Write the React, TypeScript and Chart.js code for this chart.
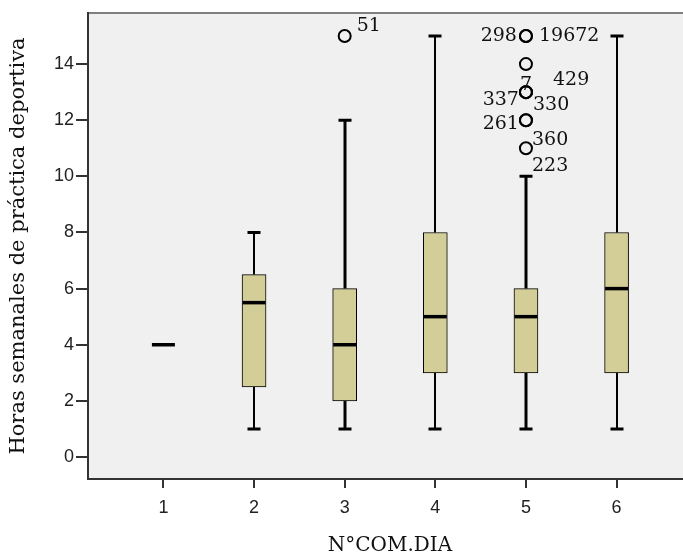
import { useEffect, useRef } from 'react';
import { Chart, registerables } from 'chart.js';

Chart.register(...registerables);

// ---- data ----
const categories = [1, 2, 3, 4, 5, 6];
const q1 = [4, 2.5, 2, 3, 3, 3];
const medians = [4, 5.5, 4, 5, 5, 6];
const q3 = [4, 6.5, 6, 8, 6, 8];
const whiskerLow = [4, 1, 1, 1, 1, 1];
const whiskerHigh = [4, 8, 12, 15, 10, 15];
const outlierCategory = [3, 5, 5, 5, 5, 5, 5, 5, 5, 5];
const outlierValue = [15, 15, 15, 14, 13, 13, 13, 12, 12, 11];
const outlierIds = ['51', '298', '19672', '429', '7', '337', '330', '261', '360', '223'];
const yTickValues = [0, 2, 4, 6, 8, 10, 12, 14];

// ---- styles ----
const labelDx = [12, -9, 13, 27, 0, -7, 7, -7, 6, 6];
const labelDy = [-10, 0, 0, 16, -7, 8, 13, 4, 20, 18];
const labelAlign: CanvasTextAlign[] = ['left', 'right', 'left', 'left', 'center', 'right', 'left', 'right', 'left', 'left'];
const whiskerLineWidths = [2, 2, 3, 2, 3, 2];
const BOX_FILL = '#D3CE98';
const PLOT_BG = '#F0F0F0';
const AXIS_COLOR = '#333333';

const boxPlugin = {
  id: 'boxExtras',
  beforeDraw(chart: any) {
    const { ctx, chartArea } = chart;
    ctx.save();
    ctx.fillStyle = PLOT_BG;
    ctx.fillRect(chartArea.left, chartArea.top, chartArea.right - chartArea.left, chartArea.bottom - chartArea.top);
    ctx.strokeStyle = '#808080';
    ctx.lineWidth = 2;
    ctx.beginPath();
    ctx.moveTo(chartArea.left, chartArea.top);
    ctx.lineTo(chartArea.right, chartArea.top);
    ctx.stroke();
    ctx.restore();
  },
  beforeDatasetsDraw(chart: any) {
    const { ctx } = chart;
    const xs = chart.scales.x;
    const ys = chart.scales.y;
    ctx.save();
    ctx.strokeStyle = '#000';
    categories.forEach((c, i) => {
      if (whiskerLow[i] === whiskerHigh[i]) return;
      const x = Math.round(xs.getPixelForValue(c));
      const lw = whiskerLineWidths[i];
      ctx.lineWidth = lw;
      ctx.beginPath();
      ctx.moveTo(x, ys.getPixelForValue(q3[i]));
      ctx.lineTo(x, ys.getPixelForValue(whiskerHigh[i]));
      ctx.moveTo(x, ys.getPixelForValue(q1[i]));
      ctx.lineTo(x, ys.getPixelForValue(whiskerLow[i]));
      ctx.stroke();
      ctx.lineWidth = 3;
      ctx.beginPath();
      const hi = ys.getPixelForValue(whiskerHigh[i]);
      const lo = ys.getPixelForValue(whiskerLow[i]);
      ctx.moveTo(x - 6.5, hi);
      ctx.lineTo(x + 6.5, hi);
      ctx.moveTo(x - 6.5, lo);
      ctx.lineTo(x + 6.5, lo);
      ctx.stroke();
    });
    ctx.restore();
  },
  afterDatasetsDraw(chart: any) {
    const { ctx } = chart;
    const xs = chart.scales.x;
    const ys = chart.scales.y;
    ctx.save();
    ctx.strokeStyle = '#000';
    ctx.lineWidth = 3.5;
    categories.forEach((c, i) => {
      const x = xs.getPixelForValue(c);
      const y = ys.getPixelForValue(medians[i]);
      ctx.beginPath();
      ctx.moveTo(x - 11.5, y);
      ctx.lineTo(x + 11.5, y);
      ctx.stroke();
    });
    ctx.fillStyle = '#111';
    ctx.font = '19px "DejaVu Serif"';
    ctx.textBaseline = 'middle';
    outlierIds.forEach((t, i) => {
      const x = xs.getPixelForValue(outlierCategory[i]);
      const y = ys.getPixelForValue(outlierValue[i]);
      ctx.textAlign = labelAlign[i];
      ctx.fillText(t, x + labelDx[i], y + labelDy[i]);
    });
    ctx.restore();
  },
};

export default function App() {
  const ref = useRef<HTMLCanvasElement | null>(null);
  useEffect(() => {
    if (!ref.current) return;
    const chart = new Chart(ref.current, {
      type: 'bar',
      data: {
        datasets: [
          {
            type: 'bar',
            data: categories.map((c, i) => ({ x: c, y: [q1[i], q3[i]] })) as any,
            backgroundColor: BOX_FILL,
            borderColor: '#000',
            borderWidth: 1,
            borderSkipped: false,
            barThickness: 24,
            grouped: false,
          } as any,
          {
            type: 'scatter',
            data: outlierValue.map((v, i) => ({ x: outlierCategory[i], y: v })),
            pointRadius: 6,
            pointBorderWidth: 2,
            pointBorderColor: '#000',
            pointBackgroundColor: 'rgba(0,0,0,0)',
          } as any,
        ],
      },
      options: {
        animation: false,
        responsive: false,
        devicePixelRatio: 1,
        layout: { padding: { top: 13, right: 5, left: 0, bottom: 0 } },
        plugins: { legend: { display: false }, tooltip: { enabled: false } },
        scales: {
          x: {
            type: 'linear',
            offset: false,
            min: 0.168,
            max: 6.832,
            afterBuildTicks: (s: any) => {
              s.ticks = categories.map((v) => ({ value: v }));
            },
            afterFit: (s: any) => {
              s.height = 80;
            },
            grid: { display: true, offset: false, drawOnChartArea: false, drawTicks: true, tickLength: 9, color: AXIS_COLOR, lineWidth: 2 },
            border: { display: true, color: AXIS_COLOR, width: 2 },
            ticks: { font: { family: '"Liberation Sans"', size: 18 }, color: '#222', padding: 9, maxRotation: 0 },
            title: { display: true, text: 'N°COM.DIA', font: { family: '"DejaVu Serif"', size: 20 }, color: '#111', padding: { top: 0, bottom: 1 } },
          },
          y: {
            type: 'linear',
            min: -0.784,
            max: 15.82,
            afterBuildTicks: (s: any) => {
              s.ticks = yTickValues.map((v) => ({ value: v }));
            },
            afterFit: (s: any) => {
              s.width = 88;
            },
            grid: { display: true, drawOnChartArea: false, drawTicks: true, tickLength: 12, color: AXIS_COLOR, lineWidth: 2 },
            border: { display: true, color: AXIS_COLOR, width: 2 },
            ticks: { font: { family: '"Liberation Sans"', size: 18 }, color: '#222', padding: 2 },
            title: { display: true, text: 'Horas semanales de práctica deportiva', font: { family: '"DejaVu Serif"', size: 21 }, color: '#111', padding: { top: 6, bottom: 0 } },
          },
        },
      },
      plugins: [boxPlugin],
    });
    return () => chart.destroy();
  }, []);
  return (
    <div style={{ position: 'absolute', left: 0, top: 0, width: 683, height: 559, overflow: 'hidden', background: '#fff' }}>
      <canvas ref={ref} width={700} height={559} style={{ display: 'block', width: 700, height: 559 }} />
    </div>
  );
}
